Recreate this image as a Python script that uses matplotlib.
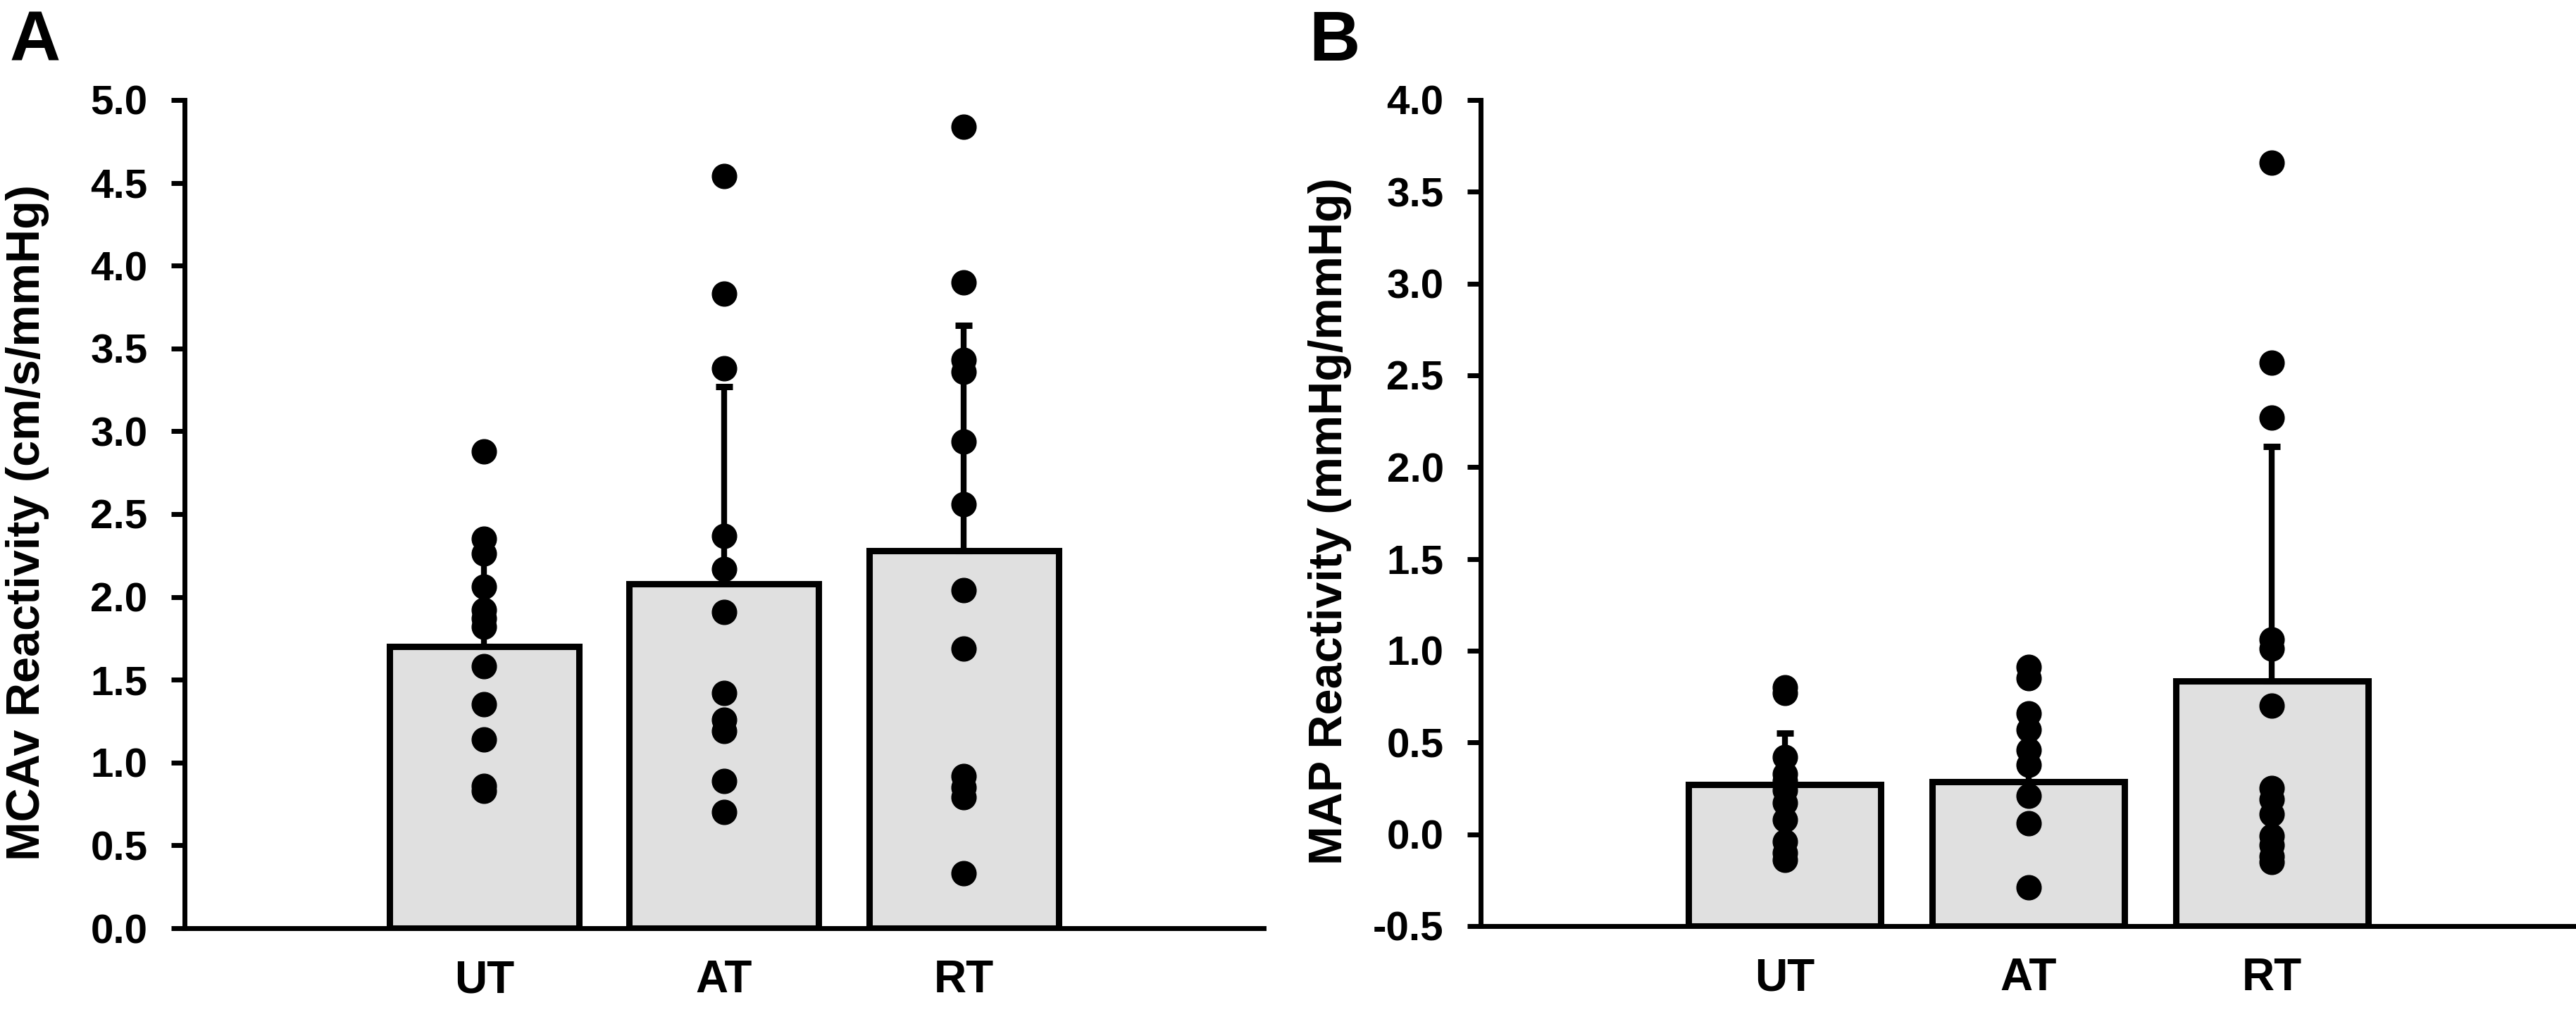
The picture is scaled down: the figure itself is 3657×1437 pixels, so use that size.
import matplotlib
matplotlib.use("Agg")
from matplotlib import pyplot as plt
import numpy as np

plt.rcParams['font.family'] = ['Liberation Sans', 'DejaVu Sans']
plt.rcParams['font.weight'] = 'bold'
plt.rcParams['axes.unicode_minus'] = False

groups = ["UT", "AT", "RT"]

# panel A : MCAv reactivity
mcav_mean = [1.70, 2.08, 2.28]
mcav_sd = [0.62, 1.19, 1.36]
mcav_ut = [2.88, 2.35, 2.26, 2.06, 1.92, 1.87, 1.82, 1.58, 1.35, 1.14, 0.86, 0.83]
mcav_at = [4.54, 3.83, 3.38, 2.37, 2.17, 1.91, 1.42, 1.26, 1.19, 0.89, 0.70]
mcav_rt = [4.84, 3.90, 3.43, 3.36, 2.94, 2.56, 2.04, 1.69, 0.92, 0.85, 0.79, 0.33]

# panel B : MAP reactivity
map_mean = [0.27, 0.285, 0.834]
map_sd = [0.28, 0.33, 1.28]
map_ut = [0.80, 0.77, 0.42, 0.33, 0.29, 0.24, 0.17, 0.08, -0.04, -0.10, -0.14]
map_at = [0.91, 0.85, 0.66, 0.57, 0.46, 0.38, 0.21, 0.06, -0.29]
map_rt = [3.66, 2.57, 2.27, 1.06, 1.01, 0.70, 0.25, 0.19, 0.11, -0.01, -0.06, -0.12, -0.15]

fig = plt.figure(figsize=(36.57, 14.37), dpi=100)
axA = fig.add_axes([0.0716, 0.0828, 0.4189, 0.8184])
axB = fig.add_axes([0.5748, 0.0849, 0.4252, 0.8163])


def panel(ax, means, sds, points, ymin, ymax, ylabel, labelx):
	x = np.arange(len(groups))
	heights = [m - ymin for m in means]
	ax.bar(x, heights, bottom=ymin, width=0.79, color='#e0e0e0',
		edgecolor='black', linewidth=6.5, zorder=2)
	ax.errorbar(x, means, yerr=[np.zeros(len(sds)), sds], fmt='none',
		ecolor='black', elinewidth=6, capsize=8.5, capthick=6.5, zorder=3)
	for i, pts in enumerate(points):
		ax.plot(np.full(len(pts), x[i]), pts, 'o', color='black',
			markersize=25, zorder=4, clip_on=False)
	ax.set_xlim(-1.25, 3.25)
	ax.set_ylim(ymin, ymax)
	ticks = np.arange(ymin, ymax + 0.01, 0.5)
	ax.set_yticks(ticks)
	ax.set_yticklabels([f'{v:.1f}' for v in ticks])
	ax.set_xticks(x)
	ax.set_xticklabels(groups)
	ax.tick_params(axis='y', length=13.7, width=5, pad=24, labelsize=42)
	ax.tick_params(axis='x', length=0, pad=32, labelsize=46)
	for s in ['top', 'right']:
		ax.spines[s].set_visible(False)
	for s in ['left', 'bottom']:
		ax.spines[s].set_linewidth(5)
	ax.set_ylabel(ylabel, fontsize=48, fontweight='bold')
	ax.yaxis.set_label_coords(labelx, 0.49)


panel(axA, mcav_mean, mcav_sd, [mcav_ut, mcav_at, mcav_rt], 0.0, 5.0,
	'MCAv Reactivity (cm/s/mmHg)', -0.125)
panel(axB, map_mean, map_sd, [map_ut, map_at, map_rt], -0.5, 4.0,
	'MAP Reactivity (mmHg/mmHg)', -0.118)

fig.text(0.0036, 0.940, 'A', fontsize=72, fontweight='bold', va='baseline')
fig.text(0.508, 0.940, 'B', fontsize=72, fontweight='bold', va='baseline')

fig.savefig('out.png', dpi=100)
